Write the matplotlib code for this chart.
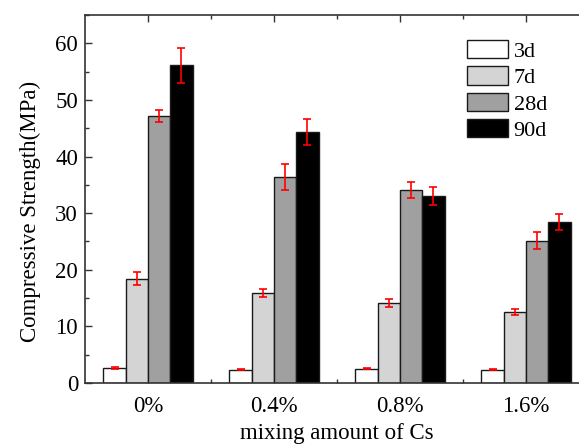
import numpy as np
import matplotlib.pyplot as plt
from matplotlib.ticker import MultipleLocator, FixedLocator

plt.rcParams['font.family'] = ['Liberation Serif', 'DejaVu Serif']

# ===== data =====
categories = ["0%", "0.4%", "0.8%", "1.6%"]
ages = ["3d", "7d", "28d", "90d"]
strength = {
    "3d": [2.65, 2.36, 2.54, 2.36],
    "7d": [18.45, 15.9, 14.15, 12.55],
    "28d": [47.1, 36.4, 34.1, 25.1],
    "90d": [56.1, 44.3, 33.05, 28.45],
}
errors = {
    "3d": [0.1, 0.1, 0.1, 0.1],
    "7d": [1.2, 0.65, 0.7, 0.55],
    "28d": [1.05, 2.3, 1.45, 1.5],
    "90d": [3.1, 2.35, 1.65, 1.35],
}
colors = {"3d": "white", "7d": "#d4d4d4", "28d": "#a0a0a0", "90d": "black"}

# ===== plot =====
fig = plt.figure(figsize=(5.79, 4.46), dpi=100)
ax = fig.add_axes([85 / 579, 1 - 383 / 446, 504 / 579, 368 / 446])

x = np.arange(len(categories))
w = 0.177
for i, age in enumerate(ages):
    pos = x + (i - 1.5) * w
    ax.bar(pos, strength[age], width=w, color=colors[age], edgecolor="#1a1a1a",
           linewidth=1.0, label=age, zorder=2)
    ax.errorbar(pos, strength[age], yerr=errors[age], fmt="none", ecolor="red",
                elinewidth=1.2, capsize=3, capthick=1.2, zorder=3)

ax.set_xlim(-0.5, 3.5)
ax.set_ylim(0, 65)
ax.xaxis.set_major_locator(FixedLocator(x))
ax.xaxis.set_minor_locator(FixedLocator(x[:-1] + 0.5))
ax.set_xticklabels(categories)
ax.yaxis.set_major_locator(MultipleLocator(10))
ax.yaxis.set_minor_locator(MultipleLocator(5))
ax.tick_params(which="both", direction="in", top=True, right=True, labelsize=16.5,
               color="#333333")
ax.tick_params(which="major", length=5, width=1)
ax.tick_params(which="minor", length=3, width=1)
ax.tick_params(axis="x", pad=9)
ax.tick_params(axis="y", pad=5)
for sp in ax.spines.values():
    sp.set_linewidth(1.2)
    sp.set_color("#333333")

ax.set_xlabel("mixing amount of Cs", fontsize=16.5, labelpad=5)
ax.set_ylabel("Compressive Strength(MPa)", fontsize=16.5, labelpad=10)
ax.yaxis.label.set_y(0.465)

ax.legend(loc="upper left", bbox_to_anchor=(467 / 579, 1 - 40 / 446),
          bbox_transform=fig.transFigure, frameon=False, fontsize=16,
          handlelength=1.85, handleheight=0.9, labelspacing=0.2,
          handletextpad=0.25, borderpad=0, borderaxespad=0)

fig.savefig("out.png", dpi=100)
